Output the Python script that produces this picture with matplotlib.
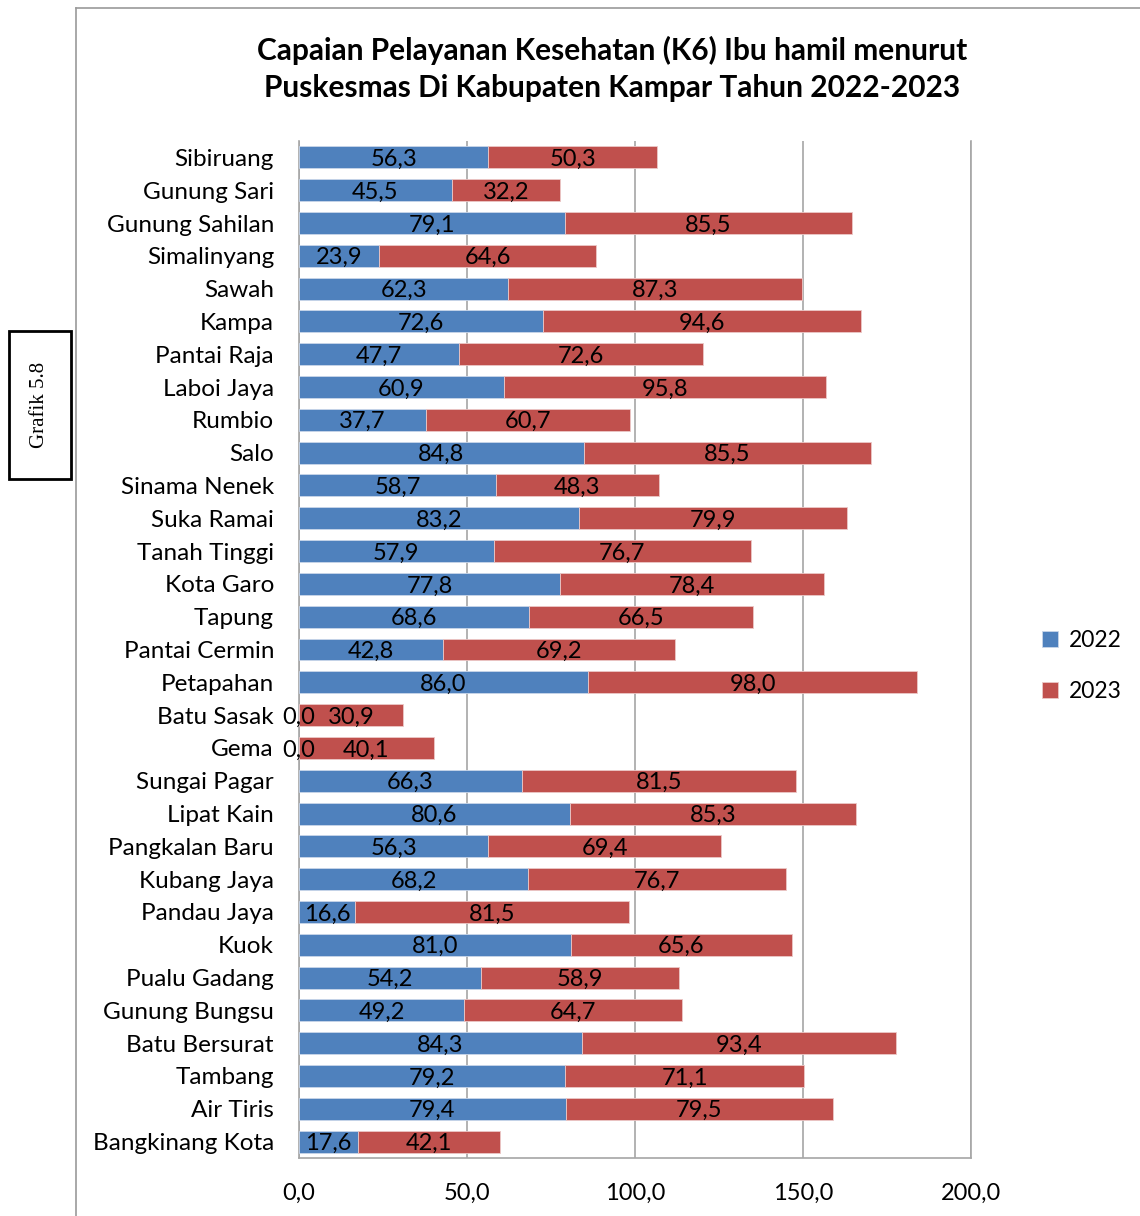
import matplotlib
matplotlib.use('Agg')
import matplotlib.pyplot as plt
import numpy as np
from matplotlib.patches import Rectangle
from matplotlib.lines import Line2D

puskesmas = ['Sibiruang', 'Gunung Sari', 'Gunung Sahilan', 'Simalinyang', 'Sawah',
             'Kampa', 'Pantai Raja', 'Laboi Jaya', 'Rumbio', 'Salo', 'Sinama Nenek',
             'Suka Ramai', 'Tanah Tinggi', 'Kota Garo', 'Tapung', 'Pantai Cermin',
             'Petapahan', 'Batu Sasak', 'Gema', 'Sungai Pagar', 'Lipat Kain',
             'Pangkalan Baru', 'Kubang Jaya', 'Pandau Jaya', 'Kuok', 'Pualu Gadang',
             'Gunung Bungsu', 'Batu Bersurat', 'Tambang', 'Air Tiris', 'Bangkinang Kota']
k6_2022 = [56.3, 45.5, 79.1, 23.9, 62.3, 72.6, 47.7, 60.9, 37.7, 84.8, 58.7,
           83.2, 57.9, 77.8, 68.6, 42.8, 86.0, 0.0, 0.0, 66.3, 80.6,
           56.3, 68.2, 16.6, 81.0, 54.2, 49.2, 84.3, 79.2, 79.4, 17.6]
k6_2023 = [50.3, 32.2, 85.5, 64.6, 87.3, 94.6, 72.6, 95.8, 60.7, 85.5, 48.3,
           79.9, 76.7, 78.4, 66.5, 69.2, 98.0, 30.9, 40.1, 81.5, 85.3,
           69.4, 76.7, 81.5, 65.6, 58.9, 64.7, 93.4, 71.1, 79.5, 42.1]
x_ticks = [0, 50, 100, 150, 200]

BLUE = '#4F81BD'
RED = '#C0504D'
FONT = ['Lato', 'DejaVu Sans']

plt.rcParams['font.family'] = FONT


def fmt(v):
    return ('%.1f' % v).replace('.', ',')


def configureFig():
    fig = plt.figure(figsize=(11.4, 12.16), dpi=100)
    fig.set_facecolor('white')
    # outer frame lines (left and top)
    fig.add_artist(Line2D([76 / 1140, 76 / 1140], [0, 1 - 8 / 1216],
                          color='#9a9a9a', lw=1.2, transform=fig.transFigure))
    fig.add_artist(Line2D([76 / 1140, 1], [1 - 8 / 1216, 1 - 8 / 1216],
                          color='#9a9a9a', lw=1.2, transform=fig.transFigure))
    # caption box
    fig.add_artist(Rectangle((9 / 1140, 1 - 479 / 1216), 62 / 1140, 148 / 1216,
                             fill=False, edgecolor='black', lw=2,
                             transform=fig.transFigure))
    fig.text(40 / 1140, 1 - 405 / 1216, 'Grafik 5.8', rotation=90,
             ha='center', va='center', fontsize=15, family='Liberation Serif')
    fig.text(612 / 1140, 1 - 50 / 1216,
             'Capaian Pelayanan Kesehatan (K6) Ibu hamil menurut',
             ha='center', va='center', fontsize=21.5, fontweight='bold')
    fig.text(612 / 1140, 1 - 88 / 1216,
             'Puskesmas Di Kabupaten Kampar Tahun 2022-2023',
             ha='center', va='center', fontsize=21.5, fontweight='bold')
    return fig


def configureAx(fig):
    ax = fig.add_axes([299 / 1140, 1 - 1158 / 1216, 672 / 1140, 1017 / 1216])
    y = np.arange(len(puskesmas))
    ax.barh(y, k6_2022, height=0.67, color=BLUE, edgecolor='#c9d6ea',
            lw=0.6, label='2022', zorder=3)
    ax.barh(y, k6_2023, left=k6_2022, height=0.67, color=RED,
            edgecolor='#ecc8c7', lw=0.6, label='2023', zorder=3)
    for i, (a, b) in enumerate(zip(k6_2022, k6_2023)):
        ax.text(a / 2, i + 0.06, fmt(a), ha='center', va='center', fontsize=17, zorder=4)
        ax.text(a + b / 2, i + 0.06, fmt(b), ha='center', va='center', fontsize=17, zorder=4)

    ax.set_ylim(len(puskesmas) - 0.5, -0.5)
    ax.set_xlim(0, 200)
    ax.set_yticks(y)
    ax.set_yticklabels(puskesmas, fontsize=17.5)
    ax.set_xticks(x_ticks)
    ax.set_xticklabels([fmt(t) for t in x_ticks], fontsize=17)
    ax.tick_params(axis='y', length=0, pad=18)
    ax.tick_params(axis='x', length=0, pad=18)
    ax.xaxis.grid(color='#a6a6a6', lw=1.2, zorder=0)
    ax.set_axisbelow(True)
    ax.spines['top'].set_visible(False)
    for s in ('left', 'bottom', 'right'):
        ax.spines[s].set_color('#a6a6a6')
        ax.spines[s].set_linewidth(1.2)

    ax.legend(loc='center left', bbox_to_anchor=(1.075, 0.484), frameon=False,
              fontsize=16.5, handlelength=0.7, handleheight=0.7,
              handletextpad=0.45, labelspacing=1.3)
    return ax


def main():
    fig = configureFig()
    configureAx(fig)
    fig.savefig('out.png', dpi=100, facecolor='white')


if __name__ == '__main__':
    main()
